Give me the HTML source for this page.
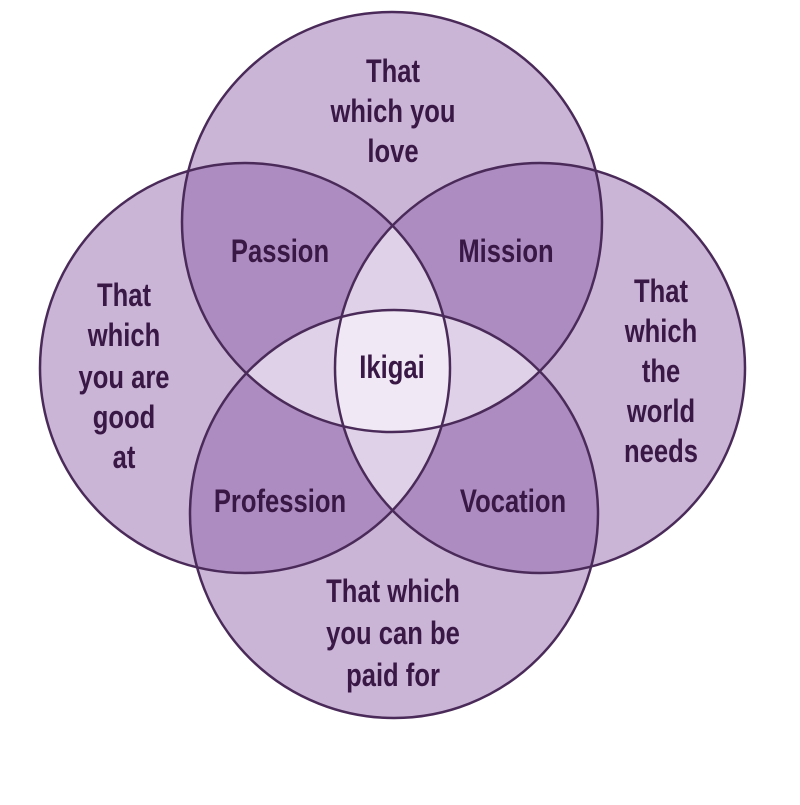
<!DOCTYPE html>
<html><head><style>
html,body{margin:0;padding:0;background:#fff;}
svg text{font-family:"Liberation Sans",sans-serif;fill:#3a1846;font-size:32px;font-weight:bold;text-anchor:middle;}
</style></head><body>
<svg width="800" height="800" viewBox="0 0 800 800" xmlns="http://www.w3.org/2000/svg">
<defs>
<clipPath id="cl"><circle cx="245" cy="368" r="205"/></clipPath>
<clipPath id="cr"><circle cx="540" cy="368" r="205"/></clipPath>
<clipPath id="ct"><circle cx="392" cy="222" r="210"/></clipPath>
<clipPath id="cb"><circle cx="394" cy="514" r="204"/></clipPath>
</defs>
<rect width="800" height="800" fill="#fff"/>
<g fill="#8a5aa6" fill-opacity="0.45">
<circle cx="392" cy="222" r="210"/>
<circle cx="245" cy="368" r="205"/>
<circle cx="540" cy="368" r="205"/>
<circle cx="394" cy="514" r="204"/>
</g>
<g clip-path="url(#cl)"><circle cx="540" cy="368" r="205" fill="#f6f0f8" fill-opacity="0.75" clip-path="url(#cr)"/></g>
<g clip-path="url(#ct)"><circle cx="394" cy="514" r="204" fill="#f6f0f8" fill-opacity="0.75" clip-path="url(#cb)"/></g>
<g fill="none" stroke="#4a2a58" stroke-width="2.5">
<circle cx="392" cy="222" r="210"/>
<circle cx="245" cy="368" r="205"/>
<circle cx="540" cy="368" r="205"/>
<circle cx="394" cy="514" r="204"/>
</g>
<g transform="translate(393,0) scale(0.8,1)"><text x="0" y="82">That</text><text x="0" y="122">which you</text><text x="0" y="162">love</text></g>
<g transform="translate(280,0) scale(0.8,1)"><text x="0" y="262">Passion</text></g>
<g transform="translate(506,0) scale(0.8,1)"><text x="0" y="262">Mission</text></g>
<g transform="translate(392,0) scale(0.8,1)"><text x="0" y="378">Ikigai</text></g>
<g transform="translate(124,0) scale(0.8,1)"><text x="0" y="306">That</text><text x="0" y="346">which</text><text x="0" y="388">you are</text><text x="0" y="428">good</text><text x="0" y="468">at</text></g>
<g transform="translate(661,0) scale(0.8,1)"><text x="0" y="302">That</text><text x="0" y="342">which</text><text x="0" y="382">the</text><text x="0" y="422">world</text><text x="0" y="462">needs</text></g>
<g transform="translate(280,0) scale(0.8,1)"><text x="0" y="512">Profession</text></g>
<g transform="translate(513,0) scale(0.8,1)"><text x="0" y="512">Vocation</text></g>
<g transform="translate(393,0) scale(0.8,1)"><text x="0" y="602">That which</text><text x="0" y="644">you can be</text><text x="0" y="686">paid for</text></g>
</svg>
</body></html>
